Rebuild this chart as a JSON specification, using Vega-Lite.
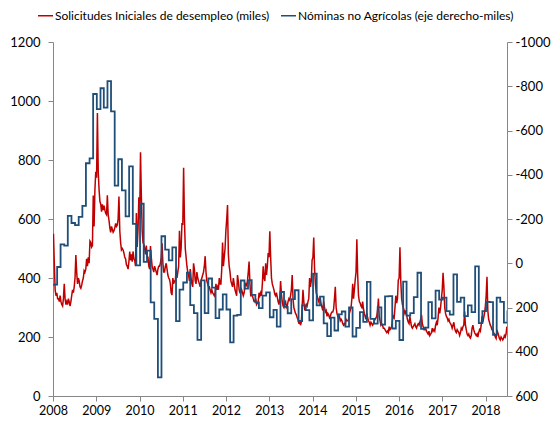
{
"$schema":"https://vega.github.io/schema/vega-lite/v6.json",
"width":454,"height":354,
"autosize":{"type":"none"},
"padding":{"left":53,"top":42,"right":49,"bottom":26},
"background":"white",
"config":{"view":{"stroke":null},"font":"Lato","axis":{"labelFont":"Lato","labelFontSize":13,"labelColor":"#000000","domainColor":"#868686","tickColor":"#868686","tickSize":5,"grid":false,"title":null}},
"datasets":{
"claims":[
{"d":"2008-01-05","v":550},{"d":"2008-01-12","v":450},{"d":"2008-01-19","v":360},{"d":"2008-01-26","v":340},
{"d":"2008-02-02","v":350},{"d":"2008-02-09","v":330},{"d":"2008-02-16","v":330},{"d":"2008-02-23","v":320},
{"d":"2008-03-01","v":340},{"d":"2008-03-08","v":320},{"d":"2008-03-15","v":310},{"d":"2008-03-22","v":305},{"d":"2008-03-29","v":330},
{"d":"2008-04-05","v":380},{"d":"2008-04-12","v":330},{"d":"2008-04-19","v":310},{"d":"2008-04-26","v":320},
{"d":"2008-05-03","v":310},{"d":"2008-05-10","v":330},{"d":"2008-05-17","v":320},{"d":"2008-05-24","v":305},{"d":"2008-05-31","v":320},
{"d":"2008-06-07","v":340},{"d":"2008-06-14","v":360},{"d":"2008-06-21","v":350},{"d":"2008-06-28","v":370},
{"d":"2008-07-05","v":400},{"d":"2008-07-12","v":478},{"d":"2008-07-19","v":420},{"d":"2008-07-26","v":380},
{"d":"2008-08-02","v":400},{"d":"2008-08-09","v":390},{"d":"2008-08-16","v":370},{"d":"2008-08-23","v":365},{"d":"2008-08-30","v":375},
{"d":"2008-09-06","v":390},{"d":"2008-09-13","v":400},{"d":"2008-09-20","v":425},{"d":"2008-09-27","v":420},
{"d":"2008-10-04","v":430},{"d":"2008-10-11","v":465},{"d":"2008-10-18","v":440},{"d":"2008-10-25","v":470},
{"d":"2008-11-01","v":450},{"d":"2008-11-08","v":525},{"d":"2008-11-15","v":520},{"d":"2008-11-22","v":505},{"d":"2008-11-29","v":510},
{"d":"2008-12-06","v":680},{"d":"2008-12-13","v":575},{"d":"2008-12-20","v":700},{"d":"2008-12-27","v":760},
{"d":"2009-01-03","v":740},{"d":"2009-01-10","v":959},{"d":"2009-01-17","v":760},{"d":"2009-01-24","v":700},{"d":"2009-01-31","v":660},
{"d":"2009-02-07","v":650},{"d":"2009-02-14","v":625},{"d":"2009-02-21","v":650},{"d":"2009-02-28","v":630},
{"d":"2009-03-07","v":645},{"d":"2009-03-14","v":630},{"d":"2009-03-21","v":620},{"d":"2009-03-28","v":615},
{"d":"2009-04-04","v":680},{"d":"2009-04-11","v":615},{"d":"2009-04-18","v":595},{"d":"2009-04-25","v":570},
{"d":"2009-05-02","v":555},{"d":"2009-05-09","v":575},{"d":"2009-05-16","v":565},{"d":"2009-05-23","v":555},{"d":"2009-05-30","v":560},
{"d":"2009-06-06","v":570},{"d":"2009-06-13","v":585},{"d":"2009-06-20","v":575},{"d":"2009-06-27","v":580},
{"d":"2009-07-04","v":600},{"d":"2009-07-11","v":676},{"d":"2009-07-18","v":560},{"d":"2009-07-25","v":520},
{"d":"2009-08-01","v":495},{"d":"2009-08-08","v":500},{"d":"2009-08-15","v":495},{"d":"2009-08-22","v":485},{"d":"2009-08-29","v":470},
{"d":"2009-09-05","v":465},{"d":"2009-09-12","v":445},{"d":"2009-09-19","v":440},{"d":"2009-09-26","v":430},
{"d":"2009-10-03","v":455},{"d":"2009-10-10","v":490},{"d":"2009-10-17","v":460},{"d":"2009-10-24","v":480},{"d":"2009-10-31","v":455},
{"d":"2009-11-07","v":490},{"d":"2009-11-14","v":465},{"d":"2009-11-21","v":460},{"d":"2009-11-28","v":440},
{"d":"2009-12-05","v":620},{"d":"2009-12-12","v":505},{"d":"2009-12-19","v":565},{"d":"2009-12-26","v":674},
{"d":"2010-01-02","v":600},{"d":"2010-01-09","v":826},{"d":"2010-01-16","v":680},{"d":"2010-01-23","v":560},{"d":"2010-01-30","v":520},
{"d":"2010-02-06","v":515},{"d":"2010-02-13","v":500},{"d":"2010-02-20","v":480},{"d":"2010-02-27","v":510},
{"d":"2010-03-06","v":470},{"d":"2010-03-13","v":470},{"d":"2010-03-20","v":440},{"d":"2010-03-27","v":430},
{"d":"2010-04-03","v":508},{"d":"2010-04-10","v":470},{"d":"2010-04-17","v":440},{"d":"2010-04-24","v":430},
{"d":"2010-05-01","v":420},{"d":"2010-05-08","v":440},{"d":"2010-05-15","v":430},{"d":"2010-05-22","v":420},{"d":"2010-05-29","v":410},
{"d":"2010-06-05","v":430},{"d":"2010-06-12","v":440},{"d":"2010-06-19","v":440},{"d":"2010-06-26","v":450},
{"d":"2010-07-03","v":470},{"d":"2010-07-10","v":518},{"d":"2010-07-17","v":450},{"d":"2010-07-24","v":420},{"d":"2010-07-31","v":420},
{"d":"2010-08-07","v":440},{"d":"2010-08-14","v":450},{"d":"2010-08-21","v":430},{"d":"2010-08-28","v":410},
{"d":"2010-09-04","v":400},{"d":"2010-09-11","v":395},{"d":"2010-09-18","v":380},{"d":"2010-09-25","v":350},
{"d":"2010-10-02","v":342},{"d":"2010-10-09","v":400},{"d":"2010-10-16","v":380},{"d":"2010-10-23","v":390},{"d":"2010-10-30","v":390},
{"d":"2010-11-06","v":430},{"d":"2010-11-13","v":400},{"d":"2010-11-20","v":420},{"d":"2010-11-27","v":440},
{"d":"2010-12-04","v":560},{"d":"2010-12-11","v":470},{"d":"2010-12-18","v":500},{"d":"2010-12-25","v":586},
{"d":"2011-01-01","v":580},{"d":"2011-01-08","v":774},{"d":"2011-01-15","v":600},{"d":"2011-01-22","v":500},{"d":"2011-01-29","v":470},
{"d":"2011-02-05","v":440},{"d":"2011-02-12","v":420},{"d":"2011-02-19","v":410},{"d":"2011-02-26","v":390},
{"d":"2011-03-05","v":430},{"d":"2011-03-12","v":400},{"d":"2011-03-19","v":380},{"d":"2011-03-26","v":370},
{"d":"2011-04-02","v":450},{"d":"2011-04-09","v":430},{"d":"2011-04-16","v":390},{"d":"2011-04-23","v":380},{"d":"2011-04-30","v":420},
{"d":"2011-05-07","v":400},{"d":"2011-05-14","v":390},{"d":"2011-05-21","v":380},{"d":"2011-05-28","v":370},
{"d":"2011-06-04","v":390},{"d":"2011-06-11","v":400},{"d":"2011-06-18","v":410},{"d":"2011-06-25","v":420},
{"d":"2011-07-02","v":440},{"d":"2011-07-09","v":474},{"d":"2011-07-16","v":420},{"d":"2011-07-23","v":390},{"d":"2011-07-30","v":380},
{"d":"2011-08-06","v":370},{"d":"2011-08-13","v":370},{"d":"2011-08-20","v":360},{"d":"2011-08-27","v":350},
{"d":"2011-09-03","v":360},{"d":"2011-09-10","v":350},{"d":"2011-09-17","v":345},{"d":"2011-09-24","v":340},
{"d":"2011-10-01","v":350},{"d":"2011-10-08","v":380},{"d":"2011-10-15","v":360},{"d":"2011-10-22","v":370},{"d":"2011-10-29","v":360},
{"d":"2011-11-05","v":400},{"d":"2011-11-12","v":380},{"d":"2011-11-19","v":380},{"d":"2011-11-26","v":430},
{"d":"2011-12-03","v":520},{"d":"2011-12-10","v":440},{"d":"2011-12-17","v":470},{"d":"2011-12-24","v":500},{"d":"2011-12-31","v":560},
{"d":"2012-01-07","v":600},{"d":"2012-01-14","v":647},{"d":"2012-01-21","v":480},{"d":"2012-01-28","v":440},
{"d":"2012-02-04","v":420},{"d":"2012-02-11","v":390},{"d":"2012-02-18","v":380},{"d":"2012-02-25","v":370},
{"d":"2012-03-03","v":400},{"d":"2012-03-10","v":380},{"d":"2012-03-17","v":360},{"d":"2012-03-24","v":350},{"d":"2012-03-31","v":340},
{"d":"2012-04-07","v":410},{"d":"2012-04-14","v":390},{"d":"2012-04-21","v":360},{"d":"2012-04-28","v":350},
{"d":"2012-05-05","v":350},{"d":"2012-05-12","v":360},{"d":"2012-05-19","v":350},{"d":"2012-05-26","v":340},
{"d":"2012-06-02","v":350},{"d":"2012-06-09","v":370},{"d":"2012-06-16","v":380},{"d":"2012-06-23","v":375},{"d":"2012-06-30","v":390},
{"d":"2012-07-07","v":420},{"d":"2012-07-14","v":456},{"d":"2012-07-21","v":380},{"d":"2012-07-28","v":340},
{"d":"2012-08-04","v":340},{"d":"2012-08-11","v":340},{"d":"2012-08-18","v":330},{"d":"2012-08-25","v":320},
{"d":"2012-09-01","v":320},{"d":"2012-09-08","v":330},{"d":"2012-09-15","v":310},{"d":"2012-09-22","v":315},{"d":"2012-09-29","v":320},
{"d":"2012-10-06","v":350},{"d":"2012-10-13","v":340},{"d":"2012-10-20","v":350},{"d":"2012-10-27","v":340},
{"d":"2012-11-03","v":380},{"d":"2012-11-10","v":440},{"d":"2012-11-17","v":400},{"d":"2012-11-24","v":390},
{"d":"2012-12-01","v":450},{"d":"2012-12-08","v":410},{"d":"2012-12-15","v":440},{"d":"2012-12-22","v":485},{"d":"2012-12-29","v":470},
{"d":"2013-01-05","v":558},{"d":"2013-01-12","v":470},{"d":"2013-01-19","v":400},{"d":"2013-01-26","v":380},
{"d":"2013-02-02","v":370},{"d":"2013-02-09","v":360},{"d":"2013-02-16","v":345},{"d":"2013-02-23","v":340},
{"d":"2013-03-02","v":350},{"d":"2013-03-09","v":335},{"d":"2013-03-16","v":320},{"d":"2013-03-23","v":310},{"d":"2013-03-30","v":330},
{"d":"2013-04-06","v":390},{"d":"2013-04-13","v":345},{"d":"2013-04-20","v":320},{"d":"2013-04-27","v":305},
{"d":"2013-05-04","v":300},{"d":"2013-05-11","v":315},{"d":"2013-05-18","v":320},{"d":"2013-05-25","v":300},
{"d":"2013-06-01","v":305},{"d":"2013-06-08","v":320},{"d":"2013-06-15","v":330},{"d":"2013-06-22","v":325},{"d":"2013-06-29","v":340},
{"d":"2013-07-06","v":360},{"d":"2013-07-13","v":410},{"d":"2013-07-20","v":330},{"d":"2013-07-27","v":300},
{"d":"2013-08-03","v":290},{"d":"2013-08-10","v":280},{"d":"2013-08-17","v":275},{"d":"2013-08-24","v":265},{"d":"2013-08-31","v":260},
{"d":"2013-09-07","v":245},{"d":"2013-09-14","v":255},{"d":"2013-09-21","v":240},{"d":"2013-09-28","v":250},
{"d":"2013-10-05","v":300},{"d":"2013-10-12","v":360},{"d":"2013-10-19","v":320},{"d":"2013-10-26","v":295},
{"d":"2013-11-02","v":300},{"d":"2013-11-09","v":310},{"d":"2013-11-16","v":305},{"d":"2013-11-23","v":320},{"d":"2013-11-30","v":330},
{"d":"2013-12-07","v":400},{"d":"2013-12-14","v":370},{"d":"2013-12-21","v":390},{"d":"2013-12-28","v":461},
{"d":"2014-01-04","v":470},{"d":"2014-01-11","v":537},{"d":"2014-01-18","v":430},{"d":"2014-01-25","v":380},
{"d":"2014-02-01","v":350},{"d":"2014-02-08","v":340},{"d":"2014-02-15","v":330},{"d":"2014-02-22","v":320},
{"d":"2014-03-01","v":330},{"d":"2014-03-08","v":330},{"d":"2014-03-15","v":310},{"d":"2014-03-22","v":300},{"d":"2014-03-29","v":290},
{"d":"2014-04-05","v":320},{"d":"2014-04-12","v":300},{"d":"2014-04-19","v":285},{"d":"2014-04-26","v":290},
{"d":"2014-05-03","v":270},{"d":"2014-05-10","v":280},{"d":"2014-05-17","v":275},{"d":"2014-05-24","v":265},{"d":"2014-05-31","v":270},
{"d":"2014-06-07","v":280},{"d":"2014-06-14","v":285},{"d":"2014-06-21","v":285},{"d":"2014-06-28","v":295},
{"d":"2014-07-05","v":330},{"d":"2014-07-12","v":370},{"d":"2014-07-19","v":300},{"d":"2014-07-26","v":280},
{"d":"2014-08-02","v":270},{"d":"2014-08-09","v":275},{"d":"2014-08-16","v":270},{"d":"2014-08-23","v":255},{"d":"2014-08-30","v":260},
{"d":"2014-09-06","v":255},{"d":"2014-09-13","v":245},{"d":"2014-09-20","v":240},{"d":"2014-09-27","v":245},
{"d":"2014-10-04","v":240},{"d":"2014-10-11","v":260},{"d":"2014-10-18","v":255},{"d":"2014-10-25","v":255},
{"d":"2014-11-01","v":260},{"d":"2014-11-08","v":280},{"d":"2014-11-15","v":290},{"d":"2014-11-22","v":300},{"d":"2014-11-29","v":330},
{"d":"2014-12-06","v":380},{"d":"2014-12-13","v":330},{"d":"2014-12-20","v":360},{"d":"2014-12-27","v":393},
{"d":"2015-01-03","v":420},{"d":"2015-01-10","v":531},{"d":"2015-01-17","v":410},{"d":"2015-01-24","v":340},{"d":"2015-01-31","v":320},
{"d":"2015-02-07","v":315},{"d":"2015-02-14","v":305},{"d":"2015-02-21","v":300},{"d":"2015-02-28","v":320},
{"d":"2015-03-07","v":295},{"d":"2015-03-14","v":280},{"d":"2015-03-21","v":270},{"d":"2015-03-28","v":260},
{"d":"2015-04-04","v":281},{"d":"2015-04-11","v":265},{"d":"2015-04-18","v":255},{"d":"2015-04-25","v":250},
{"d":"2015-05-02","v":240},{"d":"2015-05-09","v":250},{"d":"2015-05-16","v":245},{"d":"2015-05-23","v":240},{"d":"2015-05-30","v":245},
{"d":"2015-06-06","v":255},{"d":"2015-06-13","v":260},{"d":"2015-06-20","v":265},{"d":"2015-06-27","v":270},
{"d":"2015-07-04","v":290},{"d":"2015-07-11","v":330},{"d":"2015-07-18","v":270},{"d":"2015-07-25","v":255},
{"d":"2015-08-01","v":240},{"d":"2015-08-08","v":245},{"d":"2015-08-15","v":240},{"d":"2015-08-22","v":230},{"d":"2015-08-29","v":230},
{"d":"2015-09-05","v":225},{"d":"2015-09-12","v":220},{"d":"2015-09-19","v":215},{"d":"2015-09-26","v":220},
{"d":"2015-10-03","v":215},{"d":"2015-10-10","v":235},{"d":"2015-10-17","v":225},{"d":"2015-10-24","v":230},{"d":"2015-10-31","v":235},
{"d":"2015-11-07","v":260},{"d":"2015-11-14","v":270},{"d":"2015-11-21","v":265},{"d":"2015-11-28","v":300},
{"d":"2015-12-05","v":340},{"d":"2015-12-12","v":315},{"d":"2015-12-19","v":330},{"d":"2015-12-26","v":393},
{"d":"2016-01-02","v":400},{"d":"2016-01-09","v":504},{"d":"2016-01-16","v":390},{"d":"2016-01-23","v":330},{"d":"2016-01-30","v":310},
{"d":"2016-02-06","v":300},{"d":"2016-02-13","v":290},{"d":"2016-02-20","v":280},{"d":"2016-02-27","v":290},
{"d":"2016-03-05","v":275},{"d":"2016-03-12","v":260},{"d":"2016-03-19","v":250},{"d":"2016-03-26","v":245},
{"d":"2016-04-02","v":270},{"d":"2016-04-09","v":250},{"d":"2016-04-16","v":235},{"d":"2016-04-23","v":230},{"d":"2016-04-30","v":235},
{"d":"2016-05-07","v":240},{"d":"2016-05-14","v":245},{"d":"2016-05-21","v":235},{"d":"2016-05-28","v":230},
{"d":"2016-06-04","v":240},{"d":"2016-06-11","v":245},{"d":"2016-06-18","v":240},{"d":"2016-06-25","v":250},
{"d":"2016-07-02","v":260},{"d":"2016-07-09","v":275},{"d":"2016-07-16","v":245},{"d":"2016-07-23","v":235},{"d":"2016-07-30","v":225},
{"d":"2016-08-06","v":225},{"d":"2016-08-13","v":230},{"d":"2016-08-20","v":220},{"d":"2016-08-27","v":215},
{"d":"2016-09-03","v":210},{"d":"2016-09-10","v":220},{"d":"2016-09-17","v":205},{"d":"2016-09-24","v":210},
{"d":"2016-10-01","v":215},{"d":"2016-10-08","v":230},{"d":"2016-10-15","v":220},{"d":"2016-10-22","v":225},{"d":"2016-10-29","v":220},
{"d":"2016-11-05","v":240},{"d":"2016-11-12","v":250},{"d":"2016-11-19","v":240},{"d":"2016-11-26","v":265},
{"d":"2016-12-03","v":300},{"d":"2016-12-10","v":280},{"d":"2016-12-17","v":300},{"d":"2016-12-24","v":330},{"d":"2016-12-31","v":359},
{"d":"2017-01-07","v":418},{"d":"2017-01-14","v":370},{"d":"2017-01-21","v":300},{"d":"2017-01-28","v":280},
{"d":"2017-02-04","v":270},{"d":"2017-02-11","v":265},{"d":"2017-02-18","v":255},{"d":"2017-02-25","v":260},
{"d":"2017-03-04","v":250},{"d":"2017-03-11","v":245},{"d":"2017-03-18","v":240},{"d":"2017-03-25","v":230},
{"d":"2017-04-01","v":240},{"d":"2017-04-08","v":250},{"d":"2017-04-15","v":230},{"d":"2017-04-22","v":220},{"d":"2017-04-29","v":215},
{"d":"2017-05-06","v":225},{"d":"2017-05-13","v":220},{"d":"2017-05-20","v":215},{"d":"2017-05-27","v":205},
{"d":"2017-06-03","v":215},{"d":"2017-06-10","v":230},{"d":"2017-06-17","v":225},{"d":"2017-06-24","v":235},
{"d":"2017-07-01","v":240},{"d":"2017-07-08","v":286},{"d":"2017-07-15","v":240},{"d":"2017-07-22","v":225},{"d":"2017-07-29","v":210},
{"d":"2017-08-05","v":205},{"d":"2017-08-12","v":210},{"d":"2017-08-19","v":200},{"d":"2017-08-26","v":196},
{"d":"2017-09-02","v":205},{"d":"2017-09-09","v":230},{"d":"2017-09-16","v":240},{"d":"2017-09-23","v":225},{"d":"2017-09-30","v":215},
{"d":"2017-10-07","v":210},{"d":"2017-10-14","v":205},{"d":"2017-10-21","v":210},{"d":"2017-10-28","v":200},
{"d":"2017-11-04","v":215},{"d":"2017-11-11","v":225},{"d":"2017-11-18","v":220},{"d":"2017-11-25","v":240},
{"d":"2017-12-02","v":270},{"d":"2017-12-09","v":250},{"d":"2017-12-16","v":265},{"d":"2017-12-23","v":280},{"d":"2017-12-30","v":303},
{"d":"2018-01-06","v":340},{"d":"2018-01-13","v":404},{"d":"2018-01-20","v":290},{"d":"2018-01-27","v":260},
{"d":"2018-02-03","v":250},{"d":"2018-02-10","v":240},{"d":"2018-02-17","v":235},{"d":"2018-02-24","v":225},
{"d":"2018-03-03","v":225},{"d":"2018-03-10","v":215},{"d":"2018-03-17","v":210},{"d":"2018-03-24","v":200},{"d":"2018-03-31","v":195},
{"d":"2018-04-07","v":224},{"d":"2018-04-14","v":215},{"d":"2018-04-21","v":205},{"d":"2018-04-28","v":195},
{"d":"2018-05-05","v":190},{"d":"2018-05-12","v":200},{"d":"2018-05-19","v":195},{"d":"2018-05-26","v":190},
{"d":"2018-06-02","v":195},{"d":"2018-06-09","v":205},{"d":"2018-06-16","v":200},{"d":"2018-06-23","v":210},{"d":"2018-06-30","v":235}
],
"nfp":[
{"d":"2008-01-01","v":97},{"d":"2008-02-05","v":17},{"d":"2008-03-05","v":-85},{"d":"2008-04-05","v":-80},{"d":"2008-05-05","v":-214},{"d":"2008-06-05","v":-182},{"d":"2008-07-05","v":-172},{"d":"2008-08-05","v":-210},{"d":"2008-09-05","v":-259},{"d":"2008-10-05","v":-452},{"d":"2008-11-05","v":-474},{"d":"2008-12-05","v":-765},
{"d":"2009-01-05","v":-697},{"d":"2009-02-05","v":-791},{"d":"2009-03-05","v":-703},{"d":"2009-04-05","v":-823},{"d":"2009-05-05","v":-686},{"d":"2009-06-05","v":-351},{"d":"2009-07-05","v":-470},{"d":"2009-08-05","v":-329},{"d":"2009-09-05","v":-212},{"d":"2009-10-05","v":-438},{"d":"2009-11-05","v":-178},{"d":"2009-12-05","v":10},
{"d":"2010-01-05","v":-269},{"d":"2010-02-05","v":-6},{"d":"2010-03-05","v":-57},{"d":"2010-04-05","v":177},{"d":"2010-05-05","v":251},{"d":"2010-06-05","v":516},{"d":"2010-07-05","v":-122},{"d":"2010-08-05","v":-62},{"d":"2010-09-05","v":-13},{"d":"2010-10-05","v":-72},{"d":"2010-11-05","v":262},{"d":"2010-12-05","v":119},
{"d":"2011-01-05","v":87},{"d":"2011-02-05","v":43},{"d":"2011-03-05","v":189},{"d":"2011-04-05","v":225},{"d":"2011-05-05","v":346},{"d":"2011-06-05","v":77},{"d":"2011-07-05","v":225},{"d":"2011-08-05","v":69},{"d":"2011-09-05","v":110},{"d":"2011-10-05","v":248},{"d":"2011-11-05","v":209},{"d":"2011-12-05","v":141},
{"d":"2012-01-05","v":209},{"d":"2012-02-05","v":358},{"d":"2012-03-05","v":237},{"d":"2012-04-05","v":233},{"d":"2012-05-05","v":78},{"d":"2012-06-05","v":115},{"d":"2012-07-05","v":76},{"d":"2012-08-05","v":143},{"d":"2012-09-05","v":177},{"d":"2012-10-05","v":203},{"d":"2012-11-05","v":146},{"d":"2012-12-05","v":132},
{"d":"2013-01-05","v":244},{"d":"2013-02-05","v":211},{"d":"2013-03-05","v":286},{"d":"2013-04-05","v":130},{"d":"2013-05-05","v":197},{"d":"2013-06-05","v":226},{"d":"2013-07-05","v":162},{"d":"2013-08-05","v":122},{"d":"2013-09-05","v":261},{"d":"2013-10-05","v":190},{"d":"2013-11-05","v":212},{"d":"2013-12-05","v":258},
{"d":"2014-01-05","v":47},{"d":"2014-02-05","v":190},{"d":"2014-03-05","v":151},{"d":"2014-04-05","v":272},{"d":"2014-05-05","v":329},{"d":"2014-06-05","v":246},{"d":"2014-07-05","v":304},{"d":"2014-08-05","v":231},{"d":"2014-09-05","v":218},{"d":"2014-10-05","v":286},{"d":"2014-11-05","v":200},{"d":"2014-12-05","v":331},
{"d":"2015-01-05","v":292},{"d":"2015-02-05","v":221},{"d":"2015-03-05","v":265},{"d":"2015-04-05","v":84},{"d":"2015-05-05","v":251},{"d":"2015-06-05","v":273},{"d":"2015-07-05","v":199},{"d":"2015-08-05","v":277},{"d":"2015-09-05","v":150},{"d":"2015-10-05","v":149},{"d":"2015-11-05","v":295},{"d":"2015-12-05","v":260},
{"d":"2016-01-05","v":347},{"d":"2016-02-05","v":83},{"d":"2016-03-05","v":237},{"d":"2016-04-05","v":225},{"d":"2016-05-05","v":153},{"d":"2016-06-05","v":43},{"d":"2016-07-05","v":297},{"d":"2016-08-05","v":291},{"d":"2016-09-05","v":176},{"d":"2016-10-05","v":249},{"d":"2016-11-05","v":124},{"d":"2016-12-05","v":164},
{"d":"2017-01-05","v":155},{"d":"2017-02-05","v":216},{"d":"2017-03-05","v":232},{"d":"2017-04-05","v":50},{"d":"2017-05-05","v":175},{"d":"2017-06-05","v":155},{"d":"2017-07-05","v":239},{"d":"2017-08-05","v":190},{"d":"2017-09-05","v":221},{"d":"2017-10-05","v":14},{"d":"2017-11-05","v":271},{"d":"2017-12-05","v":216},
{"d":"2018-01-05","v":175},{"d":"2018-02-05","v":176},{"d":"2018-03-05","v":324},{"d":"2018-04-05","v":155},{"d":"2018-05-05","v":175},{"d":"2018-06-05","v":268},{"d":"2018-07-05","v":213}
]
},
"layer":[
{"data":{"name":"claims"},
 "mark":{"type":"line","strokeWidth":1.5,"clip":true},
 "encoding":{
  "x":{"field":"d","type":"temporal","scale":{"type":"utc","domain":[{"year":2008,"month":1,"date":1,"utc":true},{"year":2018,"month":7,"date":1,"utc":true}]},
       "axis":{"format":"%Y","formatType":"utc","values":[{"year":2008,"utc":true},{"year":2009,"utc":true},{"year":2010,"utc":true},{"year":2011,"utc":true},{"year":2012,"utc":true},{"year":2013,"utc":true},{"year":2014,"utc":true},{"year":2015,"utc":true},{"year":2016,"utc":true},{"year":2017,"utc":true},{"year":2018,"utc":true}],"labelPadding":3,"labelFontSize":12.5,"labelOverlap":false,"labelFlush":false}},
  "y":{"field":"v","type":"quantitative","scale":{"domain":[0,1200]},
       "axis":{"orient":"left","values":[0,200,400,600,800,1000,1200],"labelExpr":"datum.value + ''","labelPadding":8}},
  "color":{"datum":"Solicitudes Iniciales de desempleo (miles)","type":"nominal",
       "scale":{"domain":["Solicitudes Iniciales de desempleo (miles)","Nóminas no Agrícolas (eje derecho-miles)"],"range":["#C00000","#1F4E79"]},
       "legend":{"orient":"none","legendX":-16,"legendY":-35,"direction":"horizontal","title":null,"symbolType":"stroke","symbolSize":225,"symbolStrokeWidth":1.5,"labelFont":"Lato","labelFontSize":12,"labelColor":"#000000","labelLimit":0,"columnPadding":8,"labelOffset":1}}
 }},
{"data":{"name":"nfp"},
 "mark":{"type":"line","interpolate":"step-after","strokeWidth":1.8,"clip":true},
 "encoding":{
  "x":{"field":"d","type":"temporal"},
  "y":{"field":"v","type":"quantitative","scale":{"domain":[-1000,600],"reverse":true},
       "axis":{"orient":"right","values":[-1000,-800,-600,-400,-200,0,200,400,600],"labelExpr":"datum.value + ''","labelPadding":3}},
  "color":{"datum":"Nóminas no Agrícolas (eje derecho-miles)","type":"nominal"}
 }}
],
"resolve":{"scale":{"y":"independent"}}
}
